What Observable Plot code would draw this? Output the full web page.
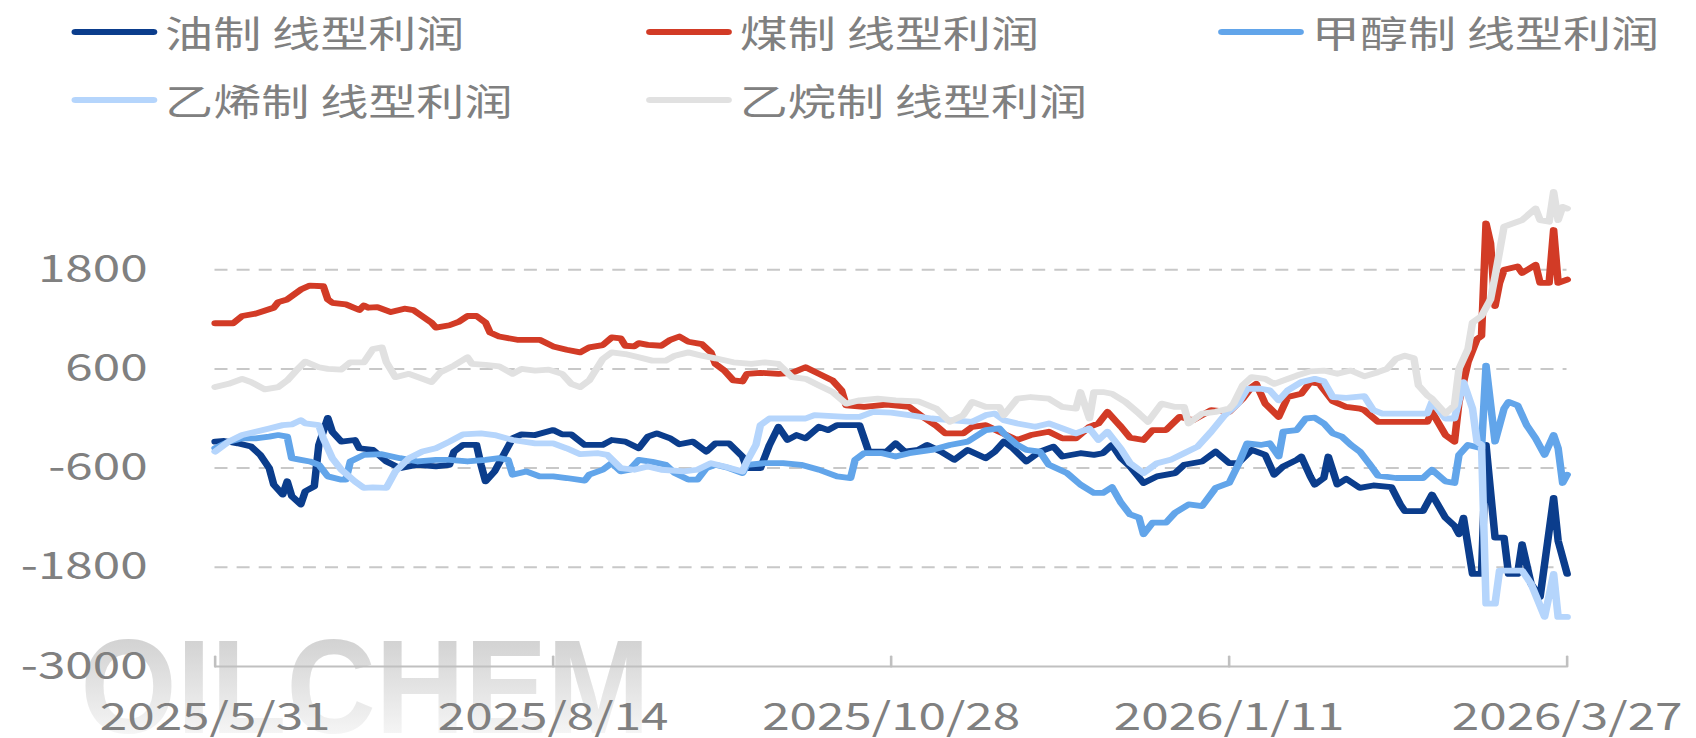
<!DOCTYPE html>
<html>
<head>
<meta charset="utf-8">
<script src="https://cdn.jsdelivr.net/npm/d3@7"></script>
<script src="https://cdn.jsdelivr.net/npm/@observablehq/plot@0.6"></script>
<style>
html, body { margin: 0; padding: 0; background: #fff; overflow: hidden; }
#wrap { width: 1305px; height: 738px; transform: scaleX(1.3); transform-origin: 0 0; position: relative;
  font-family: "Noto Sans CJK SC", "Noto Sans", sans-serif; color: #808080; }
#legend { position: relative; height: 130px; }
.item { position: absolute; display: flex; align-items: center; height: 44px; font-size: 37px; white-space: nowrap; line-height: 44px; }
.swatch { width: 66px; height: 6px; border-radius: 3px; margin-right: 6px; }
#chart svg { display: block; }
</style>
</head>
<body>
<div id="wrap"><div id="legend"></div><div id="chart"></div></div>
<script>
// ---- data (day offsets from 2025/5/31, profit values) ----
const seriesNames = ["油制 线型利润", "煤制 线型利润", "甲醇制 线型利润", "乙烯制 线型利润", "乙烷制 线型利润"];
const seriesColors = ["#0b3d8c", "#d23b26", "#62a5ea", "#b5d5fc", "#e1e1e1"];

const oilDays = [0,2,5,8,10,12,13,15,16,17,19,20,22,23,25,26,28,31,32,35,38,41,45,49,52,53,55,58,59,60,62,64,66,68,71,75,77,79,82,86,88,91,94,96,98,101,103,106,109,111,114,117,118,121,123,125,127,129,131,134,136,138,143,145,149,151,153,156,158,161,164,167,171,173,175,177,180,183,186,188,192,195,197,199,201,203,206,209,213,215,219,222,225,227,230,233,235,237,240,241,243,244,246,247,249,251,254,257,261,263,264,268,270,273,275,276,277,279,281,282,284,286,287,289,290,292,294,297,298,300];
const oilVals = [-280,-272,-300,-340,-440,-600,-800,-920,-760,-940,-1040,-880,-820,-320,8,-160,-280,-260,-360,-380,-520,-600,-560,-580,-560,-400,-320,-320,-560,-760,-640,-440,-240,-192,-200,-140,-192,-192,-320,-320,-260,-280,-360,-220,-180,-240,-312,-280,-400,-300,-300,-460,-600,-600,-320,-100,-260,-200,-240,-100,-140,-80,-80,-400,-400,-300,-400,-380,-320,-400,-500,-380,-480,-400,-280,-360,-520,-400,-340,-460,-420,-440,-420,-320,-480,-580,-780,-700,-660,-560,-520,-400,-540,-540,-380,-440,-680,-580,-500,-460,-700,-800,-720,-460,-800,-730,-840,-810,-830,-1040,-1120,-1120,-920,-1200,-1300,-1400,-1200,-1880,-1880,-320,-1440,-1440,-1880,-1880,-1520,-2000,-2160,-960,-1480,-1880];

const coalDays = [0,4,6,9,13,14,16,19,21,24,25,26,29,32,33,34,36,39,42,44,48,49,52,54,56,58,60,61,63,67,72,75,78,81,83,86,88,90,91,93,94,96,99,101,103,105,108,110,111,113,115,117,118,121,125,128,131,134,137,139,140,144,149,154,157,160,162,166,168,171,174,178,181,185,188,191,194,196,198,200,201,203,206,208,211,214,217,221,225,228,230,231,233,236,238,241,243,245,248,251,254,255,258,262,269,270,273,275,276,278,280,281,282,283,284,285,286,289,290,293,294,296,297,298,300];
const coalVals = [1152,1152,1240,1268,1340,1408,1440,1560,1608,1600,1440,1400,1380,1312,1368,1340,1348,1288,1328,1312,1160,1100,1128,1168,1240,1240,1160,1040,992,952,952,872,832,800,860,888,980,968,880,872,912,890,880,952,992,928,900,800,660,580,460,448,540,552,540,552,620,540,460,340,160,140,168,140,20,-88,-180,-180,-100,-80,-160,-260,-200,-160,-240,-240,-100,-60,80,-40,-100,-232,-260,-140,-140,20,-20,100,80,240,380,420,180,20,260,300,440,420,210,140,120,100,-40,-40,-40,80,-200,-280,200,680,960,1000,2360,2120,1360,1640,1800,1840,1760,1860,1640,1640,2280,1640,1680];

const methDays = [0,3,6,9,12,14,16,17,19,21,23,25,28,29,30,33,37,41,45,49,52,56,60,63,65,66,69,72,75,78,82,83,86,88,90,92,94,97,100,102,105,107,109,111,114,117,118,122,126,130,134,138,141,142,144,148,151,154,159,163,167,171,174,175,178,180,183,185,189,192,195,197,199,201,203,205,206,208,211,213,216,219,222,225,227,229,232,234,236,237,240,242,244,246,248,250,252,254,256,258,262,268,270,273,275,276,278,281,282,284,286,287,289,291,293,295,297,298,299,300];
const methVals = [-360,-280,-240,-240,-220,-200,-220,-480,-500,-520,-560,-700,-740,-740,-520,-440,-432,-480,-520,-500,-500,-520,-500,-480,-500,-680,-640,-700,-700,-720,-752,-680,-620,-540,-640,-620,-500,-525,-560,-660,-740,-740,-600,-560,-600,-660,-560,-540,-540,-560,-620,-700,-720,-500,-420,-420,-460,-420,-380,-320,-280,-140,-120,-180,-320,-380,-400,-560,-660,-800,-900,-900,-830,-1020,-1160,-1200,-1400,-1260,-1260,-1140,-1040,-1060,-840,-780,-560,-300,-320,-300,-460,-160,-140,0,10,-60,-180,-220,-320,-400,-540,-690,-720,-720,-620,-760,-780,-440,-320,-360,640,-280,120,200,160,-80,-240,-440,-200,-360,-780,-680];

const ethDays = [0,3,6,9,12,15,17,19,20,23,24,26,28,31,33,35,38,40,43,46,49,52,55,59,62,66,71,75,78,81,85,87,90,93,96,99,104,107,110,113,117,118,120,121,123,126,131,133,136,140,143,146,150,154,159,163,168,171,173,175,178,182,185,188,191,194,196,198,201,203,206,209,212,215,218,221,224,227,229,232,234,236,238,241,244,246,248,251,255,257,259,262,269,270,273,275,277,279,280,281,282,284,285,290,292,295,297,298,300];
const ethVals = [-400,-280,-200,-160,-120,-80,-72,-20,-60,-80,-240,-480,-620,-760,-840,-832,-840,-640,-480,-400,-360,-280,-192,-180,-200,-260,-300,-300,-360,-432,-420,-440,-600,-620,-580,-620,-640,-620,-540,-580,-640,-520,-320,-80,0,0,0,40,32,20,20,80,72,40,0,-20,-40,40,60,-20,-60,-100,-60,-120,-180,-120,-260,-160,-370,-540,-660,-540,-500,-420,-340,-160,40,180,360,360,340,220,340,440,480,450,260,250,270,100,60,60,60,200,0,0,440,120,-280,-320,-2240,-2240,-1840,-1840,-2000,-2400,-1880,-2400,-2400];

const gasDays = [0,3,6,8,11,14,16,18,20,23,25,28,30,33,35,37,38,40,43,45,48,50,53,56,57,60,63,66,68,71,74,77,79,81,83,86,88,91,94,97,100,102,105,108,111,115,119,122,125,128,131,134,137,140,143,147,151,156,160,163,166,168,171,174,175,178,181,185,188,191,192,194,195,197,199,202,205,207,210,213,215,216,219,222,225,226,228,230,233,235,238,240,243,246,249,252,255,258,260,262,264,266,267,269,270,272,273,275,276,278,279,281,283,284,286,288,290,293,294,296,297,298,299,300];
const gasVals = [380,420,480,440,352,380,460,580,688,620,600,592,680,680,840,860,680,500,540,500,440,560,640,740,660,648,632,540,600,580,592,540,420,380,460,720,800,780,740,700,700,760,800,760,728,680,660,680,660,500,480,400,320,180,220,240,220,208,120,-40,40,200,140,140,40,240,260,240,140,120,320,0,320,320,300,200,60,-40,180,140,140,-60,60,80,120,180,400,500,480,420,480,520,570,580,540,580,510,560,600,720,760,728,400,280,240,120,60,160,600,840,1160,1240,1440,1720,2320,2360,2400,2540,2400,2380,2740,2400,2560,2540];

const xTickLabels = ["2025/5/31", "2025/8/14", "2025/10/28", "2026/1/11", "2026/3/27"];
const yTicks = [-3000, -1800, -600, 600, 1800];
const yGrid = [-1800, -600, 600, 1800];
const yDomain = [-3000, 3000];

// ---- build table ----
const parseDay = s => { const [y, m, d] = s.split("/").map(Number); return new Date(Date.UTC(y, m - 1, d)); };
const startDate = parseDay(xTickLabels[0]);
const endDate = parseDay(xTickLabels[xTickLabels.length - 1]);
const toDate = d => new Date(startDate.getTime() + d * 86400000);
const xTicks = xTickLabels.map(parseDay);
const fmtDate = d => `${d.getUTCFullYear()}/${d.getUTCMonth() + 1}/${d.getUTCDate()}`;

const seriesData = [[oilDays, oilVals], [coalDays, coalVals], [methDays, methVals], [ethDays, ethVals], [gasDays, gasVals]];
const rows = [];
seriesData.forEach(([days, vals], i) => {
  const n = Math.min(days.length, vals.length);
  for (let k = 0; k < n; k++) rows.push({series: seriesNames[i], date: toDate(days[k]), value: vals[k]});
});

// ---- legend ----
const legend = document.getElementById("legend");
const legendPos = [[55, 32], [497, 32], [937, 32], [55, 100], [497, 100]];
seriesNames.forEach((name, i) => {
  const it = document.createElement("div");
  it.className = "item";
  it.style.left = legendPos[i][0] + "px";
  it.style.top = (legendPos[i][1] - 22) + "px";
  const sw = document.createElement("span");
  sw.className = "swatch";
  sw.style.background = seriesColors[i];
  const tx = document.createElement("span");
  tx.textContent = name;
  it.appendChild(sw); it.appendChild(tx);
  legend.appendChild(it);
});

// ---- chart ----
const tickShape = { draw(context, l) { context.moveTo(0, 0); context.lineTo(0, -l); } };

const chart = Plot.plot({
  width: 1305,
  height: 608,
  marginLeft: 165,
  marginRight: 100,
  marginTop: 40,
  marginBottom: 72,
  style: { fontFamily: '"Noto Sans CJK SC", "Noto Sans", sans-serif', color: "#808080", background: "#fff", overflow: "visible" },
  x: { type: "utc", domain: [startDate, endDate], label: null },
  y: { domain: yDomain, label: null },
  color: { domain: seriesNames, range: seriesColors },
  marks: [
    Plot.ruleY(yGrid, { stroke: "#c8c8c8", strokeWidth: 2, strokeDasharray: "10,7" }),
    Plot.ruleY([yDomain[0]], { stroke: "#c0c0c0", strokeWidth: 2 }),
    Plot.vector(xTicks, { x: d => d, frameAnchor: "bottom", length: 10, rotate: 0, anchor: "start", shape: tickShape, stroke: "#c0c0c0", strokeWidth: 2 }),
    Plot.axisY({ ticks: yTicks, tickSize: 0, tickPadding: 52, tickFormat: d => String(d), fontSize: 38 }),
    Plot.axisX({ ticks: xTicks, tickSize: 0, tickPadding: 37, tickFormat: fmtDate, fontSize: 38 }),
    Plot.line(rows, { x: "date", y: "value", z: "series", stroke: "series", strokeWidth: 5.8, strokeLinejoin: "round", strokeLinecap: "round" })
  ]
});
document.getElementById("chart").appendChild(chart);

// ---- watermark ----
const svg = d3.select(chart);
svg.insert("text", ":first-child")
  .attr("x", 62).attr("y", 603)
  .attr("text-anchor", "start")
  .attr("font-family", '"Liberation Sans", Arial, sans-serif')
  .attr("font-weight", "bold")
  .attr("font-size", 134)
  .attr("textLength", 438)
  .attr("lengthAdjust", "spacingAndGlyphs")
  .attr("fill", "url(#wmGrad)")
  .text("OILCHEM");
const defs = svg.insert("defs", ":first-child");
const grad = defs.append("linearGradient").attr("id", "wmGrad").attr("x1", 0).attr("y1", 0).attr("x2", 0).attr("y2", 1);
grad.append("stop").attr("offset", "0%").attr("stop-color", "#c8c8c8");
grad.append("stop").attr("offset", "100%").attr("stop-color", "#ffffff");
</script>
</body>
</html>
